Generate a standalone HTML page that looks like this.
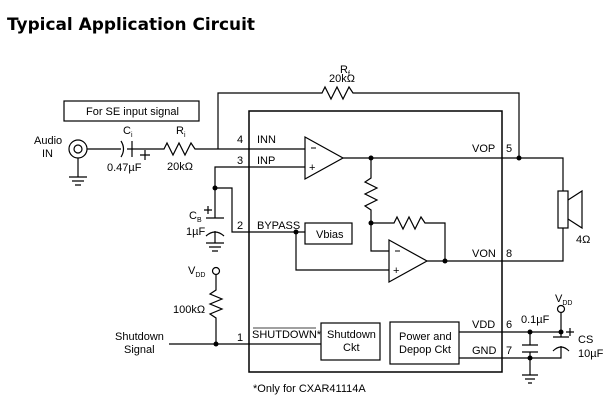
<!DOCTYPE html>
<html><head><style>body{margin:0;background:#fff}svg{display:block}text{font-family:"Liberation Sans",Arial,sans-serif;font-size:11px;fill:#000}</style></head><body>
<svg width="616" height="404" viewBox="0 0 616 404" xmlns="http://www.w3.org/2000/svg">
<text x="7" y="30" style="font-family:'DejaVu Sans',sans-serif;font-weight:bold;font-size:17px" textLength="248" lengthAdjust="spacingAndGlyphs">Typical Application Circuit</text>
<g fill="none" stroke="#000" stroke-width="1.2">
<rect x="249" y="111" width="253" height="261" stroke-width="1.5"/>
<rect x="64" y="101" width="135" height="20"/>
<circle cx="78" cy="149" r="9"/><circle cx="78" cy="149" r="4"/>
<path d="M78 158V177M69 177H87M72 181H84M75 185H81"/>
<path d="M87 149H121M127 149H164L167 143L173 155L179 143L185 155L191 143L195 149H305"/>
<path d="M121 141Q126 149 121 157M132 141V157"/>
<path d="M140 155H150M145 150V160"/>
<path d="M218 149V93H322L325 87L331 99L337 87L343 99L349 87L353 93H519V158"/>
<path d="M305 167H215V218M215 188H232V232H305"/>
<path d="M206 218H224M206 236Q215 228 224 236M215 231V243M206 243H224M209 247H221M212 251H218"/>
<path d="M204 210H212M208 206V214"/>
<path d="M305 137L343 158L305 179Z"/>
<path d="M343 158H563V191M371 158V178L365 182L377 188L365 194L377 200L365 206L371 210V251H389"/>
<path d="M371 223H394L397 217L403 229L409 217L415 229L421 217L425 223H445V261"/>
<path d="M389 240L427 261L389 282Z"/>
<path d="M427 261H563V228M296 232V270H389"/>
<rect x="305" y="223" width="47" height="21"/>
<rect x="558" y="191" width="10" height="37"/>
<path d="M568 200L582 191V228L568 219"/>
<path d="M169 344H321M216 344V318L210 314L222 309L210 304L222 299L210 294L216 290V275"/>
<circle cx="216" cy="271" r="3.5"/>
<rect x="321" y="323" width="59" height="37"/>
<rect x="390" y="322" width="69" height="42"/>
<path d="M459 332H561M459 358H530M530 332V345M522 345H538M522 352H538M530 352V375M522 375H538M525 379H535M528 383H532"/>
<path d="M561 313V337M553 337H569M553 351Q561 343 569 351M561 346V358H530"/>
<circle cx="561" cy="309" r="3.5"/>
<path d="M566 332H574M570 328V336"/>
<path d="M253 328H316" stroke-width="0.8"/>
</g>
<g fill="#000">
<circle cx="215" cy="188" r="2.5"/><circle cx="296" cy="232" r="2.5"/>
<circle cx="371" cy="158" r="2.5"/><circle cx="519" cy="158" r="2.5"/>
<circle cx="371" cy="223" r="2.5"/><circle cx="445" cy="261" r="2.5"/>
<circle cx="216" cy="344" r="2.5"/><circle cx="530" cy="332" r="2.5"/>
<circle cx="561" cy="332" r="2.5"/><circle cx="530" cy="358" r="2.5"/>
</g>
<g font-size="8">
<line x1="311" y1="148" x2="316" y2="148" stroke="#000"/>
<text x="309" y="171">+</text>
<line x1="395" y1="251" x2="400" y2="251" stroke="#000"/>
<text x="393" y="274">+</text>
</g>
<text x="86" y="115">For SE input signal</text>
<text x="34" y="144">Audio</text><text x="42" y="157">IN</text>
<text x="123" y="134">C<tspan font-size="7" dy="3">i</tspan></text>
<text x="107" y="171">0.47µF</text>
<text x="176" y="134">R<tspan font-size="7" dy="3">i</tspan></text>
<text x="167" y="170">20kΩ</text>
<text x="340" y="73">R<tspan font-size="7" dy="3">f</tspan></text>
<text x="329" y="82">20kΩ</text>
<text x="237" y="143">4</text><text x="257" y="143">INN</text>
<text x="237" y="164">3</text><text x="257" y="164">INP</text>
<text x="237" y="229">2</text><text x="257" y="229">BYPASS</text>
<text x="316" y="238">Vbias</text>
<text x="189" y="219">C<tspan font-size="7" dy="3">B</tspan></text>
<text x="186" y="235">1µF</text>
<text x="472" y="152">VOP</text><text x="506" y="152">5</text>
<text x="472" y="257">VON</text><text x="506" y="257">8</text>
<text x="576" y="243">4Ω</text>
<text x="188" y="274">V<tspan font-size="7" dy="3">DD</tspan></text>
<text x="173" y="313">100kΩ</text>
<text x="115" y="340">Shutdown</text><text x="124" y="353">Signal</text>
<text x="237" y="341">1</text>
<text x="252" y="338">SHUTDOWN*</text>
<text x="327" y="338">Shutdown</text><text x="343" y="351">Ckt</text>
<text x="399" y="340">Power and</text><text x="399" y="353">Depop Ckt</text>
<text x="472" y="328">VDD</text><text x="506" y="328">6</text>
<text x="472" y="354">GND</text><text x="506" y="354">7</text>
<text x="521" y="323">0.1µF</text>
<text x="555" y="302">V<tspan font-size="7" dy="3">DD</tspan></text>
<text x="578" y="343">CS</text><text x="578" y="357">10µF</text>
<text x="253" y="392">*Only for CXAR41114A</text>
</svg>
</body></html>
